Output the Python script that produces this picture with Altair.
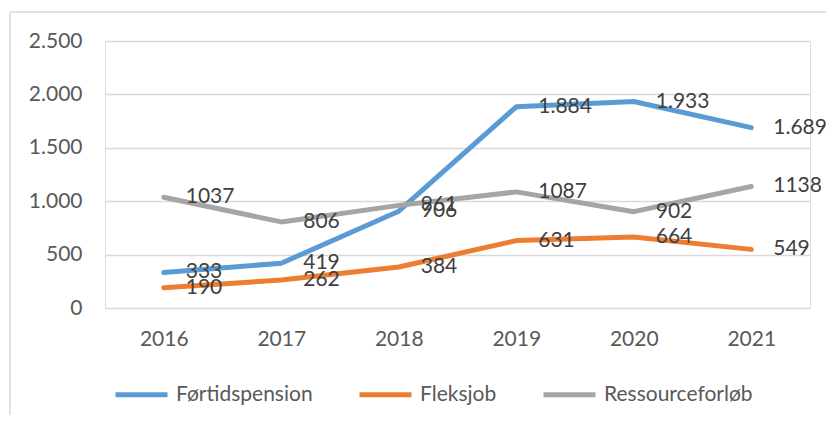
import altair as alt
import pandas as pd

years = ["2016", "2017", "2018", "2019", "2020", "2021"]
series_names = ["Førtidspension", "Fleksjob", "Ressourceforløb"]
fortidspension = [333, 419, 906, 1884, 1933, 1689]
fleksjob = [190, 262, 384, 631, 664, 549]
ressourceforlob = [1037, 806, 961, 1087, 902, 1138]
colors = ["#5B9BD5", "#ED7D31", "#A5A5A5"]

rows = []
for name, vals in zip(series_names, [fortidspension, fleksjob, ressourceforlob]):
    for i, (y, v) in enumerate(zip(years, vals)):
        if name == "Førtidspension":
            lab = f"{v:,}".replace(",", ".")
        else:
            lab = str(v)
        rows.append({"year": y, "series": name, "value": v, "label": lab, "order": series_names.index(name)})
df = pd.DataFrame(rows)

FONT = "Lato"
FS = 21

x_enc = alt.X("year:O", title=None, sort=years,
              axis=alt.Axis(labelAngle=0, domain=False, ticks=False, labelPadding=20,
                            labelFontSize=FS, labelFont=FONT, labelColor="#595959"))
y_enc = alt.Y("value:Q", title=None,
              scale=alt.Scale(domain=[0, 2500], nice=False),
              axis=alt.Axis(values=[0, 500, 1000, 1500, 2000, 2500], domain=False, ticks=False,
                            labelPadding=23, labelFontSize=FS, labelFont=FONT, labelColor="#595959",
                            gridColor="#D9D9D9", gridWidth=1.3,
                            labelExpr="replace(format(datum.value, ','), ',', '.')"))

color_enc = alt.Color("series:N", scale=alt.Scale(domain=series_names, range=colors),
                      legend=alt.Legend(title=None, orient="none", direction="horizontal",
                                        legendX=8, legendY=325, symbolType="stroke",
                                        symbolSize=2704, symbolStrokeWidth=5,
                                        labelFontSize=FS, labelFont=FONT, labelColor="#595959",
                                        labelOffset=6, columnPadding=36, padding=0))

lines = alt.Chart(df).mark_line(strokeWidth=5, strokeCap="round", strokeJoin="round").encode(
    x=x_enc, y=y_enc, color=color_enc, detail="series:N", order="order:Q"
)

labels = alt.Chart(df).mark_text(align="left", baseline="middle", dx=22, font=FONT,
                                 fontSize=FS, color="#404040").encode(
    x=alt.X("year:O", sort=years), y="value:Q", text="label:N"
)

frame_top = alt.Chart(pd.DataFrame({"a": [0]})).mark_rule(color="#D9D9D9", strokeWidth=1.5).encode(
    x=alt.value(-95), x2=alt.value(740), y=alt.value(-29)
)
frame_left = alt.Chart(pd.DataFrame({"a": [0]})).mark_rule(color="#D9D9D9", strokeWidth=1.5).encode(
    x=alt.value(-95), y=alt.value(-29), y2=alt.value(400)
)

chart = alt.layer(frame_top, frame_left, lines, labels).properties(
    width=705, height=267,
    autosize=alt.AutoSizeParams(type="none"),
    padding={"left": 97, "top": 33, "right": 16, "bottom": 107},
).configure_view(stroke=None).configure(background="white")

chart.save("out.html", embed_options={"renderer": "svg", "actions": False})
